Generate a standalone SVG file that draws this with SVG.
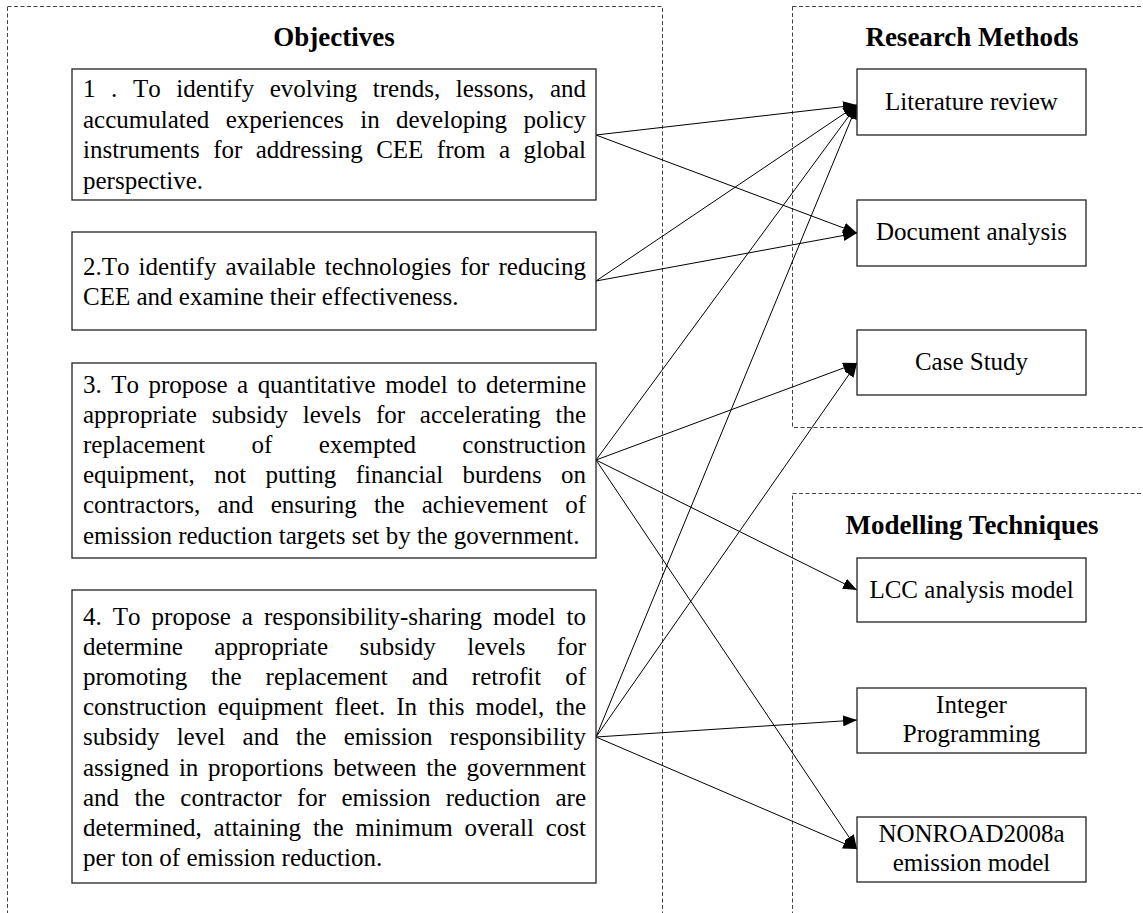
<svg xmlns="http://www.w3.org/2000/svg" width="1143" height="913" viewBox="0 0 1143 913">
<style>
.t{font-family:"Liberation Serif","Times New Roman",serif;font-size:25px;fill:#000;font-kerning:none}
.h{font-family:"Liberation Serif","Times New Roman",serif;font-size:27px;font-weight:bold;fill:#000;text-anchor:middle}
.c{text-anchor:middle}
.grp{fill:none;stroke:#444;stroke-width:1;stroke-dasharray:4 2.5}
.box{fill:#fff;stroke:#222;stroke-width:1.3}
.ln{fill:none;stroke:#000;stroke-width:1;marker-end:url(#ah)}
</style>
<defs>
<marker id="ah" markerUnits="userSpaceOnUse" markerWidth="14" markerHeight="11" refX="14" refY="5.5" orient="auto" viewBox="0 0 14 11">
<path d="M0,0 L14,5.5 L0,11 z" fill="#000"/>
</marker>
</defs>
<rect fill="#fff" x="0" y="0" width="1143" height="913"/>
<g id="group-objectives">
<rect class="grp" x="7.5" y="6.5" width="655" height="930"/>
<text class="h" x="334" y="46">Objectives</text>
</g>
<g id="group-research-methods">
<rect class="grp" x="792.5" y="6.5" width="400" height="421"/>
<text class="h" x="972" y="46">Research Methods</text>
</g>
<g id="group-modelling-techniques">
<rect class="grp" x="792.5" y="493.5" width="400" height="500"/>
<text class="h" x="972" y="534">Modelling Techniques</text>
</g>
<g id="connectors">
<line class="ln" x1="596" y1="135" x2="857" y2="105"/>
<line class="ln" x1="596" y1="135" x2="857" y2="233"/>
<line class="ln" x1="596" y1="281" x2="857" y2="105"/>
<line class="ln" x1="596" y1="281" x2="857" y2="233"/>
<line class="ln" x1="596" y1="460" x2="857" y2="105"/>
<line class="ln" x1="596" y1="460" x2="857" y2="363"/>
<line class="ln" x1="596" y1="460" x2="857" y2="590"/>
<line class="ln" x1="596" y1="460" x2="857" y2="849"/>
<line class="ln" x1="596" y1="737" x2="857" y2="105"/>
<line class="ln" x1="596" y1="737" x2="857" y2="363"/>
<line class="ln" x1="596" y1="737" x2="857" y2="720"/>
<line class="ln" x1="596" y1="737" x2="857" y2="849"/>
</g>
<g id="obj1">
<rect class="box" x="72" y="69" width="524" height="131"/>
<text class="t" x="83" y="97" word-spacing="9.36" textLength="503" lengthAdjust="spacing">1 . To identify evolving trends, lessons, and</text>
<text class="t" x="83" y="127.5" word-spacing="10.15" textLength="503" lengthAdjust="spacing">accumulated experiences in developing policy</text>
<text class="t" x="83" y="158" word-spacing="7.22" textLength="503" lengthAdjust="spacing">instruments for addressing CEE from a global</text>
<text class="t" x="83" y="188.5">perspective.</text>
</g>
<g id="obj2">
<rect class="box" x="72" y="232" width="524" height="98"/>
<text class="t" x="83" y="275" word-spacing="2.84" textLength="503" lengthAdjust="spacing">2.To identify available technologies for reducing</text>
<text class="t" x="83" y="305">CEE and examine their effectiveness.</text>
</g>
<g id="obj3">
<rect class="box" x="72" y="363" width="524" height="195"/>
<text class="t" x="83" y="392.5" word-spacing="3.21" textLength="503" lengthAdjust="spacing">3. To propose a quantitative model to determine</text>
<text class="t" x="83" y="422.7" word-spacing="8.54" textLength="503" lengthAdjust="spacing">appropriate subsidy levels for accelerating the</text>
<text class="t" x="83" y="452.9" word-spacing="40.1" textLength="503" lengthAdjust="spacing">replacement of exempted construction</text>
<text class="t" x="83" y="483.1" word-spacing="13.1" textLength="503" lengthAdjust="spacing">equipment, not putting financial burdens on</text>
<text class="t" x="83" y="513.3" word-spacing="10.9" textLength="503" lengthAdjust="spacing">contractors, and ensuring the achievement of</text>
<text class="t" x="83" y="543.5">emission reduction targets set by the government.</text>
</g>
<g id="obj4">
<rect class="box" x="72" y="590" width="524" height="293"/>
<text class="t" x="83" y="624.5" word-spacing="4.79" textLength="503" lengthAdjust="spacing">4. To propose a responsibility-sharing model to</text>
<text class="t" x="83" y="654.7" word-spacing="25.1" textLength="503" lengthAdjust="spacing">determine appropriate subsidy levels for</text>
<text class="t" x="83" y="684.9" word-spacing="17.7" textLength="503" lengthAdjust="spacing">promoting the replacement and retrofit of</text>
<text class="t" x="83" y="715.1" word-spacing="4.9" textLength="503" lengthAdjust="spacing">construction equipment fleet. In this model, the</text>
<text class="t" x="83" y="745.3" word-spacing="11.0" textLength="503" lengthAdjust="spacing">subsidy level and the emission responsibility</text>
<text class="t" x="83" y="775.5" word-spacing="3.52" textLength="503" lengthAdjust="spacing">assigned in proportions between the government</text>
<text class="t" x="83" y="805.7" word-spacing="9.08" textLength="503" lengthAdjust="spacing">and the contractor for emission reduction are</text>
<text class="t" x="83" y="835.9" word-spacing="5.6" textLength="503" lengthAdjust="spacing">determined, attaining the minimum overall cost</text>
<text class="t" x="83" y="866.1">per ton of emission reduction.</text>
</g>
<g id="literature-review">
<rect class="box" x="857" y="69" width="229" height="66"/>
<text class="t c" x="971.5" y="110">Literature review</text>
</g>
<g id="document-analysis">
<rect class="box" x="857" y="200" width="229" height="66"/>
<text class="t c" x="971.5" y="240">Document analysis</text>
</g>
<g id="case-study">
<rect class="box" x="857" y="330" width="229" height="65"/>
<text class="t c" x="971.5" y="370">Case Study</text>
</g>
<g id="lcc-analysis-model">
<rect class="box" x="857" y="558" width="229" height="64"/>
<text class="t c" x="971.5" y="598">LCC analysis model</text>
</g>
<g id="integer-programming">
<rect class="box" x="857" y="688" width="229" height="65"/>
<text class="t c" x="971.5" y="713">Integer</text>
<text class="t c" x="971.5" y="742">Programming</text>
</g>
<g id="nonroad-model">
<rect class="box" x="857" y="817" width="229" height="65"/>
<text class="t c" x="971.5" y="842">NONROAD2008a</text>
<text class="t c" x="971.5" y="871">emission model</text>
</g>
</svg>
